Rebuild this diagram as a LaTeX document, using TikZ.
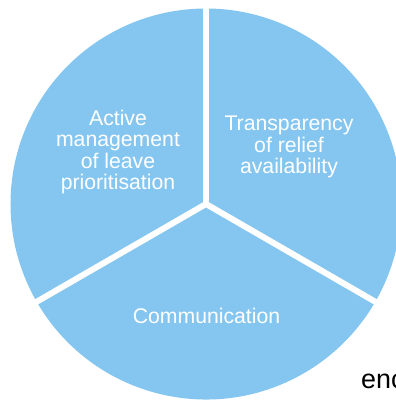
\documentclass[tikz,border=0pt]{standalone}
\usepackage{fontspec}
\setmainfont{Liberation Sans}
\definecolor{pieblue}{RGB}{133,198,240}
\newcommand*{\mylabelstyle}{\fontsize{21.3}{21.5}\selectfont\color{white}}
\newcommand{\piesector}[4]{%
% radius, start angle, end angle, options
  \pgfmathsetmacro{\rpie}{#1}
  \fill[#4] (0,0) -- (#2:\rpie) arc (#2:#3:\rpie) -- cycle;
}

\begin{document}
\begin{tikzpicture}[x=1bp, y=1bp]
  \useasboundingbox (-206,-197) rectangle (190,204);
    \piesector{195.5}{90}{210}{pieblue};
    \piesector{195.5}{210}{330}{pieblue};
    \piesector{195.5}{-30}{90}{pieblue};
    % white gaps between the sectors
    \foreach \a in {90,210,330}
      \draw[white, line width = 6] (0,0) -- (\a:201);
  \node[align = center, font = \mylabelstyle] (active) at (-88,52)
    {Active\\management\\of leave\\prioritisation};
  \node[align = center, font = \mylabelstyle] (transparency) at (83,57)
    {Transparency\\of relief\\availability};
  \node[font = \mylabelstyle] (communication) at (0.5,-112) {Communication};
  \node[anchor = base west, inner sep = 0, font = \fontsize{27}{30}\selectfont]
    (enc) at (155,-184) {enc};
\end{tikzpicture}
\end{document}
